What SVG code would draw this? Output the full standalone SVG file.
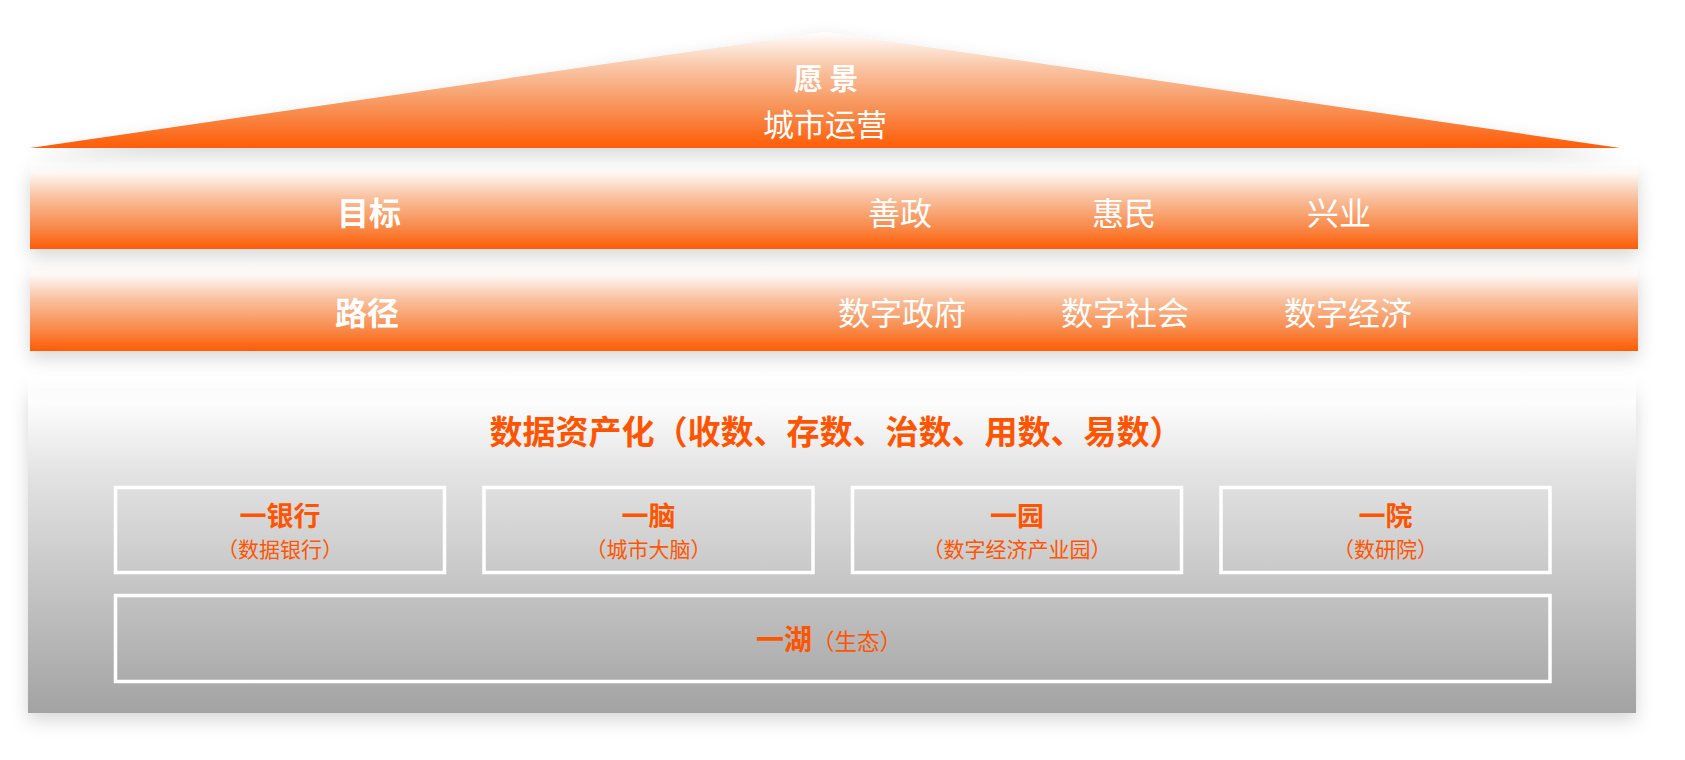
<svg xmlns="http://www.w3.org/2000/svg" width="1685" height="760" viewBox="0 0 1685 760">
  <defs>
    <linearGradient id="gTri" x1="0" y1="32" x2="0" y2="148" gradientUnits="userSpaceOnUse">
      <stop offset="0" stop-color="#FFFFFF"/>
      <stop offset="0.3" stop-color="#F9C6A6"/>
      <stop offset="0.65" stop-color="#F89257"/>
      <stop offset="1" stop-color="#FF5C06"/>
    </linearGradient>
    <linearGradient id="gBand" x1="0" y1="0" x2="0" y2="1">
      <stop offset="0" stop-color="#FFFFFF" stop-opacity="0"/>
      <stop offset="0.14" stop-color="#FEF8F4" stop-opacity="1"/>
      <stop offset="0.4" stop-color="#F9C3A2"/>
      <stop offset="0.75" stop-color="#F88A4A"/>
      <stop offset="1" stop-color="#FF5C05"/>
    </linearGradient>
    <linearGradient id="gPanel" x1="0" y1="0" x2="0" y2="1">
      <stop offset="0" stop-color="#FFFFFF" stop-opacity="0"/>
      <stop offset="0.08" stop-color="#FDFDFD" stop-opacity="1"/>
      <stop offset="0.3" stop-color="#E2E2E2"/>
      <stop offset="1" stop-color="#A3A3A3"/>
    </linearGradient>
    <filter id="shadow" x="-5%" y="-40%" width="110%" height="190%">
      <feDropShadow dx="0" dy="7" stdDeviation="9" flood-color="#000000" flood-opacity="0.16"/>
    </filter>
    <style>
      .w { fill: #FFFFFF; font-family: "Noto Sans CJK SC", "Noto Sans", sans-serif; }
      .wb { font-weight: 700; }
      .o { fill: #FF5500; font-family: "Noto Sans CJK SC", "Noto Sans", sans-serif; }
      .ob { font-weight: 700; }
      .box { fill: none; stroke: #FFFFFF; stroke-width: 3.5; }
    </style>
  </defs>

  <rect x="0" y="0" width="1685" height="760" fill="#FFFFFF"/>

  <g id="panel">
    <rect x="28" y="375" width="1608" height="338" fill="url(#gPanel)" filter="url(#shadow)"/>
    <text class="o ob" x="836" y="444" font-size="33" text-anchor="middle">数据资产化（收数、存数、治数、用数、易数）</text>
  </g>

  <g id="band-path">
    <rect x="30" y="263" width="1608" height="88" fill="url(#gBand)" filter="url(#shadow)"/>
    <text class="w wb" x="367" y="325" font-size="32" text-anchor="middle">路径</text>
    <text class="w" x="902" y="325" font-size="32" text-anchor="middle">数字政府</text>
    <text class="w" x="1125" y="325" font-size="32" text-anchor="middle">数字社会</text>
    <text class="w" x="1348" y="325" font-size="32" text-anchor="middle">数字经济</text>
  </g>

  <g id="band-goal">
    <rect x="30" y="161" width="1608" height="88" fill="url(#gBand)" filter="url(#shadow)"/>
    <text class="w wb" x="369" y="225" font-size="32" text-anchor="middle">目标</text>
    <text class="w" x="900" y="225" font-size="32" text-anchor="middle">善政</text>
    <text class="w" x="1124" y="225" font-size="32" text-anchor="middle">惠民</text>
    <text class="w" x="1339" y="225" font-size="32" text-anchor="middle">兴业</text>
  </g>

  <g id="vision">
    <polygon points="30,148 825,32 1620,148" fill="url(#gTri)" filter="url(#shadow)"/>
    <text class="w wb" x="826" y="90" font-size="29" text-anchor="middle" xml:space="preserve">愿 景</text>
    <text class="w" x="825" y="136" font-size="31" text-anchor="middle">城市运营</text>
  </g>

  <g id="node-bank">
    <rect class="box" x="115.5" y="487.5" width="329" height="85"/>
    <text class="o ob" x="280" y="526" font-size="27" text-anchor="middle">一银行</text>
    <text class="o" x="280" y="557" font-size="21" text-anchor="middle">（数据银行）</text>
  </g>

  <g id="node-brain">
    <rect class="box" x="484" y="487.5" width="329" height="85"/>
    <text class="o ob" x="648.5" y="526" font-size="27" text-anchor="middle">一脑</text>
    <text class="o" x="648.5" y="557" font-size="21" text-anchor="middle">（城市大脑）</text>
  </g>

  <g id="node-park">
    <rect class="box" x="852.5" y="487.5" width="329" height="85"/>
    <text class="o ob" x="1017" y="526" font-size="27" text-anchor="middle">一园</text>
    <text class="o" x="1017" y="557" font-size="21" text-anchor="middle">（数字经济产业园）</text>
  </g>

  <g id="node-institute">
    <rect class="box" x="1221" y="487.5" width="329" height="85"/>
    <text class="o ob" x="1385.5" y="526" font-size="27" text-anchor="middle">一院</text>
    <text class="o" x="1385.5" y="557" font-size="21" text-anchor="middle">（数研院）</text>
  </g>

  <g id="node-lake">
    <rect class="box" x="115.5" y="595.5" width="1434.5" height="86"/>
    <text class="o" x="829" y="650" text-anchor="middle"><tspan class="ob" font-size="28">一湖</tspan><tspan font-size="22.5">（生态）</tspan></text>
  </g>

  <g id="connectors"/>
</svg>
